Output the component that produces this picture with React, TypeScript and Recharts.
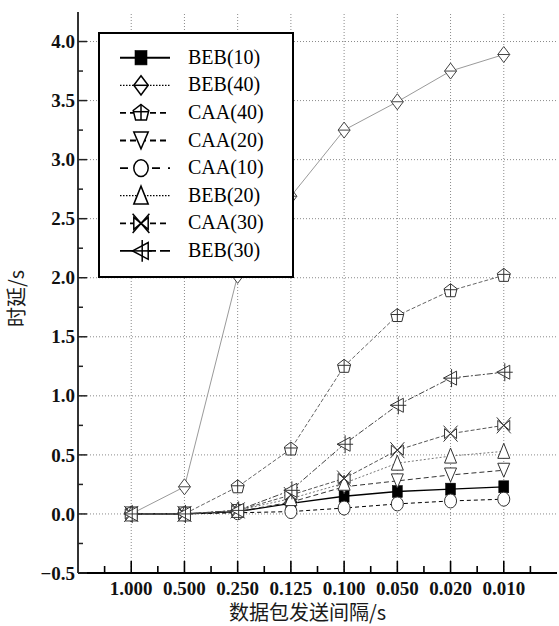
import React from 'react';
import { LineChart, Line, XAxis, YAxis, ReferenceLine, Legend } from 'recharts';

// ---------- data ----------
const categories = ['1.000', '0.500', '0.250', '0.125', '0.100', '0.050', '0.020', '0.010'];

const beb10 = [0, 0, 0.02, 0.09, 0.15, 0.19, 0.21, 0.23];
const beb40 = [0, 0.23, 2.02, 2.69, 3.25, 3.49, 3.75, 3.89];
const caa40 = [0, 0, 0.23, 0.55, 1.25, 1.68, 1.89, 2.02];
const caa20 = [0, 0, 0.02, 0.1, 0.23, 0.28, 0.33, 0.37];
const caa10 = [0, 0, 0.01, 0.02, 0.05, 0.085, 0.11, 0.125];
const beb20 = [0, 0, 0.03, 0.13, 0.26, 0.43, 0.49, 0.53];
const caa30 = [0, 0, 0.03, 0.16, 0.3, 0.54, 0.68, 0.75];
const beb30 = [0, 0, 0.03, 0.2, 0.59, 0.92, 1.15, 1.2];

const yMajorTicks = [-0.5, 0, 0.5, 1, 1.5, 2, 2.5, 3, 3.5, 4];
const yTickLabels = ['\u22120.5', '0.0', '0.5', '1.0', '1.5', '2.0', '2.5', '3.0', '3.5', '4.0'];
const yMinorTicks = [-0.25, 0.25, 0.75, 1.25, 1.75, 2.25, 2.75, 3.25, 3.75];
const yDomain = [-0.5, 4.25];

const xTitle = '数据包发送间隔/s';
const yTitle = '时延/s';

type Shape = 'square' | 'diamond' | 'pentagon' | 'down' | 'circle' | 'up' | 'xbow' | 'left';

interface SeriesDef {
  key: string;
  name: string;
  values: number[];
  shape: Shape;
  stroke: string;
  width: number;
  dash?: string;
  legendDash?: string;
  legendWidth: number;
}

const series: SeriesDef[] = [
  { key: 'beb10', name: 'BEB(10)', values: beb10, shape: 'square', stroke: '#000', width: 1.3, legendWidth: 2 },
  { key: 'beb40', name: 'BEB(40)', values: beb40, shape: 'diamond', stroke: '#9a9a9a', width: 1, legendDash: '1.5 1.5', legendWidth: 1.3 },
  { key: 'caa40', name: 'CAA(40)', values: caa40, shape: 'pentagon', stroke: '#666', width: 1, dash: '4 2', legendDash: '6 4', legendWidth: 1.8 },
  { key: 'caa20', name: 'CAA(20)', values: caa20, shape: 'down', stroke: '#333', width: 1, dash: '5 3', legendDash: '6 4', legendWidth: 1.8 },
  { key: 'caa10', name: 'CAA(10)', values: caa10, shape: 'circle', stroke: '#000', width: 1, dash: '4 3', legendDash: '8 8', legendWidth: 1.8 },
  { key: 'beb20', name: 'BEB(20)', values: beb20, shape: 'up', stroke: '#777', width: 1, dash: '2 2', legendDash: '1.5 1.5', legendWidth: 1.3 },
  { key: 'caa30', name: 'CAA(30)', values: caa30, shape: 'xbow', stroke: '#555', width: 1, dash: '4 2', legendDash: '6 4', legendWidth: 1.8 },
  { key: 'beb30', name: 'BEB(30)', values: beb30, shape: 'left', stroke: '#444', width: 1, dash: '6 2 2 2', legendDash: '16 4', legendWidth: 1.8 },
];

const data = categories.map((label, i) => {
  const row: Record<string, number | string> = { x: i + 1, label };
  series.forEach((s) => {
    row[s.key] = s.values[i];
  });
  return row;
});

const xMajorTicks = categories.map((_, i) => i + 1);
const xAllTicks = [...categories.map((_, i) => i + 0.5), categories.length + 0.5, ...xMajorTicks].sort((a, b) => a - b);
const yAllTicks = [...yMajorTicks, ...yMinorTicks].sort((a, b) => a - b);
const xDomain = [0, categories.length + 1];

// ---------- markers ----------
function Marker({ shape, cx, cy, s = 1, stroke = '#333', sw = 1 }: { shape: Shape; cx: number; cy: number; s?: number; stroke?: string; sw?: number }) {
  const t = `translate(${cx},${cy}) scale(${s})`;
  const common = { fill: '#fff', stroke, strokeWidth: sw / s };
  switch (shape) {
    case 'square':
      return (
        <g transform={t}>
          <rect x={-5} y={-6} width={10} height={12} fill="#000" stroke="#000" strokeWidth={0.5} />
        </g>
      );
    case 'diamond':
      return (
        <g transform={t}>
          <polygon points="0,-8 6,0 0,8 -6,0" {...common} />
          <line x1={-6} y1={0} x2={6} y2={0} stroke={stroke} strokeWidth={sw / s} />
        </g>
      );
    case 'pentagon':
      return (
        <g transform={t}>
          <polygon points="0,-7 6.5,-2 4.5,6 -4.5,6 -6.5,-2" {...common} />
          <line x1={0} y1={-7} x2={0} y2={6} stroke={stroke} strokeWidth={sw / s} />
          <line x1={-6.5} y1={-1} x2={6.5} y2={-1} stroke={stroke} strokeWidth={sw / s} />
        </g>
      );
    case 'down':
      return (
        <g transform={t}>
          <polygon points="-6,-7 6,-7 0,7" {...common} />
        </g>
      );
    case 'circle':
      return (
        <g transform={t}>
          <ellipse cx={0} cy={0} rx={6} ry={7} {...common} />
        </g>
      );
    case 'up':
      return (
        <g transform={t}>
          <polygon points="0,-8 6,7 -6,7" {...common} />
        </g>
      );
    case 'xbow':
      return (
        <g transform={t}>
          <polygon points="-6,-5 6,5 6,-5 -6,5" {...common} />
          <line x1={-7} y1={-8} x2={7} y2={8} stroke={stroke} strokeWidth={sw / s} />
          <line x1={7} y1={-8} x2={-7} y2={8} stroke={stroke} strokeWidth={sw / s} />
        </g>
      );
    case 'left':
      return (
        <g transform={t}>
          <polygon points="-7,0 6,-7 6,7" {...common} />
          <line x1={1} y1={-9} x2={1} y2={9} stroke={stroke} strokeWidth={sw / s} />
          <line x1={-7} y1={0} x2={9} y2={0} stroke={stroke} strokeWidth={sw / s} />
        </g>
      );
    default:
      return null;
  }
}

// ---------- ticks ----------
const tickFont = { fontFamily: '"Liberation Serif", "Times New Roman", serif', fontWeight: 700, fontSize: 19, fill: '#111' };

function BottomTick(props: any) {
  const { x, y, payload } = props;
  const v = payload.value as number;
  const major = Number.isInteger(v);
  return (
    <g>
      <line x1={x} x2={x} y1={y} y2={y - (major ? 12 : 7)} stroke="#000" strokeWidth={1.6} />
      {major && (
        <text x={x} y={y + 22} textAnchor="middle" {...tickFont}>
          {categories[v - 1]}
        </text>
      )}
    </g>
  );
}

function TopTick(props: any) {
  const { x, y, payload } = props;
  const major = Number.isInteger(payload.value);
  return <line x1={x} x2={x} y1={y} y2={y + (major ? 12 : 7)} stroke="#000" strokeWidth={1.4} />;
}

function LeftTick(props: any) {
  const { x, y, payload } = props;
  const v = payload.value as number;
  const idx = yMajorTicks.indexOf(v);
  const major = idx >= 0;
  return (
    <g>
      <line x1={x} x2={x + (major ? 9 : 5)} y1={y} y2={y} stroke="#222" strokeWidth={1.5} />
      {major && (
        <text x={x - 3} y={y} dy="0.35em" textAnchor="end" {...tickFont}>
          {yTickLabels[idx]}
        </text>
      )}
    </g>
  );
}

function RightTick(props: any) {
  const { x, y, payload } = props;
  const major = yMajorTicks.indexOf(payload.value) >= 0;
  return <line x1={x} x2={x - (major ? 9 : 5)} y1={y} y2={y} stroke="#000" strokeWidth={1.5} />;
}

const titleFont = { fontFamily: '"Noto Sans CJK SC", sans-serif', fontSize: 20, fill: '#1a1a1a' };

function XTitle(props: any) {
  const vb = props.viewBox || {};
  return (
    <text x={vb.x + vb.width / 2 - 10} y={vb.y + 40} dy="0.35em" textAnchor="middle" {...titleFont}>
      {xTitle}
    </text>
  );
}

function YTitle(props: any) {
  const vb = props.viewBox || {};
  const cx = vb.x + 17;
  const cy = vb.y + vb.height / 2 + 6;
  return (
    <text x={cx} y={cy} dy="0.35em" textAnchor="middle" transform={`rotate(-90 ${cx} ${cy})`} {...titleFont}>
      {yTitle}
    </text>
  );
}

// ---------- legend ----------
function LegendBox() {
  const w = 196;
  const h = 246;
  return (
    <svg width={w} height={h} style={{ display: 'block' }}>
      <rect x={1} y={1} width={w - 2} height={h - 2} fill="#fff" stroke="#000" strokeWidth={2} />
      {series.map((s, i) => {
        const cy = 25.7 + i * 27.6;
        return (
          <g key={s.key}>
            <line x1={22} x2={72} y1={cy} y2={cy} stroke="#000" strokeWidth={s.legendWidth} strokeDasharray={s.legendDash} />
            <Marker shape={s.shape} cx={43} cy={cy} s={1.2} stroke="#000" sw={1.5} />
            <text x={90} y={cy + 6} fontFamily='"Liberation Serif", "Times New Roman", serif' fontSize={20} fill="#000">
              {s.name}
            </text>
          </g>
        );
      })}
    </svg>
  );
}

export default function App() {
  return (
    <div style={{ position: 'absolute', left: 0, top: 0, width: 559, height: 626, background: '#fff' }}>
      <LineChart width={559} height={626} data={data} margin={{ top: 12, right: 2, bottom: 0, left: 0 }}>
        <XAxis
          xAxisId="main"
          dataKey="x"
          type="number"
          orientation="bottom"
          domain={xDomain}
          allowDataOverflow
          ticks={xAllTicks}
          interval={0}
          height={53}
          tickSize={0}
          tickMargin={0}
          tickLine={false}
          tick={<BottomTick />}
          axisLine={{ stroke: '#000', strokeWidth: 2 }}
          label={<XTitle />}
        />
        <XAxis
          xAxisId="top"
          dataKey="x"
          type="number"
          orientation="top"
          domain={xDomain}
          allowDataOverflow
          ticks={xAllTicks}
          interval={0}
          height={0}
          tickSize={0}
          tickMargin={0}
          tickLine={false}
          tick={<TopTick />}
          axisLine={{ stroke: '#111', strokeWidth: 1.6 }}
        />
        <YAxis
          yAxisId="left"
          type="number"
          orientation="left"
          domain={yDomain}
          allowDataOverflow
          ticks={yAllTicks}
          interval={0}
          width={78}
          tickSize={0}
          tickMargin={0}
          tickLine={false}
          tick={<LeftTick />}
          axisLine={{ stroke: '#333', strokeWidth: 2 }}
          label={<YTitle />}
        />
        <YAxis
          yAxisId="right"
          type="number"
          orientation="right"
          domain={yDomain}
          allowDataOverflow
          ticks={yAllTicks}
          interval={0}
          width={0}
          tickSize={0}
          tickMargin={0}
          tickLine={false}
          tick={<RightTick />}
          axisLine={{ stroke: '#111', strokeWidth: 1.8 }}
        />
        {yMajorTicks
          .filter((v) => v > yDomain[0])
          .map((v) => (
            <ReferenceLine key={`gy${v}`} xAxisId="main" yAxisId="left" y={v} stroke="#8a8a8a" strokeWidth={1} strokeDasharray="1 2" />
          ))}
        {xMajorTicks.map((v) => (
          <ReferenceLine key={`gx${v}`} xAxisId="main" yAxisId="left" x={v} stroke="#8a8a8a" strokeWidth={1} strokeDasharray="1 2" />
        ))}
        {series.map((s) => (
          <Line
            key={s.key}
            xAxisId="main"
            yAxisId="left"
            type="linear"
            dataKey={s.key}
            name={s.name}
            stroke={s.stroke}
            strokeWidth={s.width}
            strokeDasharray={s.dash}
            isAnimationActive={false}
            activeDot={false}
            dot={(p: any) => (
              <Marker key={`${s.key}-${p.index}`} shape={s.shape} cx={p.cx} cy={p.cy} stroke={s.shape === 'diamond' ? '#444' : '#333'} sw={1} />
            )}
          />
        ))}
        <Legend
          layout="vertical"
          align="center"
          verticalAlign="middle"
          content={() => <LegendBox />}
          wrapperStyle={{ position: 'absolute', left: 98, top: 32, width: 196, height: 246, margin: 0, padding: 0 }}
        />
      </LineChart>
    </div>
  );
}
